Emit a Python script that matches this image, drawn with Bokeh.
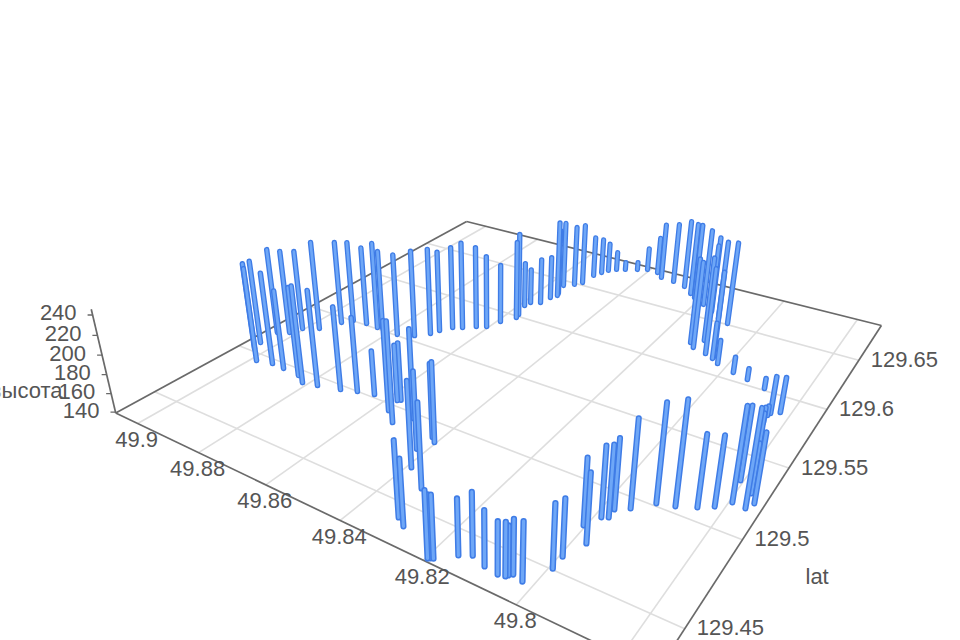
import numpy as np
from bokeh.plotting import figure
from bokeh.models import Range1d, ColumnDataSource
from bokeh.core.properties import value
from bokeh.embed import file_html
from bokeh.resources import INLINE

RAW = """9033 5022 234;8984 4946 240;9043 5080 231;8940 4967 238;9046 5199 234;8900 4963 224;9019 5232 232;8846 4955 234;8815 4920 242;9006 5298 228;8776 4939 240;8969 5345 238;8718 4970 227;8679 4999 218;8637 5022 186;8528 4894 242;8566 4956 232;8576 5039 198;8570 5050 200;8499 4966 231;8390 4689 224;8330 4606 222;8421 4799 217;8404 4875 220;8419 4899 214;8312 4425 212;8288 4396 203;8196 4310 202;8192 4316 198;8187 4321 198;8154 4381 192;8132 4408 198;8098 4386 191;8067 4378 188;8053 4385 189;8050 4394 185;8044 4407 190;8021 4396 194;7993 4505 199;7994 4575 193;8004 4758 203;7975 4679 205;7987 4833 207;7975 4847 208;7977 4899 207;7952 4937 224;7917 5016 234;7882 5039 239;7845 5078 209;7818 5118 207;7794 5177 230;7806 5320 212;7766 5170 233;7780 5316 209;7773 5267 188;7757 5216 207;7840 5753 155;7842 5814 149;7839 5836 178;7822 5867 176;7887 6017 150;7935 6049 151;7975 6073 156;8407 6881 166;8373 6875 183;8349 6828 205;8308 6817 210;8268 6791 219;8235 6729 223;8216 6696 226;8178 6645 227;8143 6593 226;8112 6539 228;8143 6579 218;8081 6513 232;8121 6228 233;8105 6190 234;8096 6284 232;8067 6167 233;8043 6152 233;8043 6141 179;8023 6110 165;8943 5454 232;8924 5503 230;8883 5515 227;8844 5512 236;8833 5526 227;8776 5510 230;8735 5548 235;8707 5608 235;8697 5658 229;8678 5719 231;8656 5746 236;8629 5793 230;8606 5821 220;8591 5904 205;8568 5985 227;8572 6019 233;8587 6122 190;8583 6169 179;8560 6198 191;8553 6277 188;8543 6318 227;8547 6342 216;8561 6442 216;8538 6486 210;8525 6532 210;8521 6645 187;8511 6704 181;8501 6749 173;8484 6786 161;8462 6813 148;8432 6850 148"""
rows = [list(map(int, r.split())) for r in RAW.split(";")]
lon = [49 + r[0] / 1e4 for r in rows]
lat = [129 + r[1] / 1e4 for r in rows]
alt = [r[2] for r in rows]

lon_ticks = [49.9, 49.88, 49.86, 49.84, 49.82, 49.8]
lat_ticks = [129.65, 129.6, 129.55, 129.5, 129.45]
alt_ticks = [240, 220, 200, 180, 160, 140]
lon_grid = [49.9, 49.88, 49.86, 49.84, 49.82, 49.8, 49.78]
lat_grid = [129.65, 129.6, 129.55, 129.5, 129.45]
lon_lim = (49.7738, 49.9077)
lat_lim = (129.4295, 129.6914)
alt_lim = (139, 245.5)

# camera: ground homography plus the vertical vanishing point
H = np.array([[-2392.102, 2050.389, 517.565], [-375.342, -315.264, 376.045], [2.155, 1.691, 1.0]])
VP = np.array([494.0, 2018.0, 1.0])
_wA = H[2] @ np.array([lon_lim[1] - 49.84, lat_lim[0] - 129.55, 1.0])
KAPPA = -0.05696 * _wA / 100


def proj(lo, la, al=139):
    lo, la, al = np.broadcast_arrays(np.asarray(lo, float), np.asarray(la, float), np.asarray(al, float))
    g = np.stack([lo - 49.84, la - 129.55, np.ones_like(lo)], axis=-1)
    q = g @ H.T + ((al - 139) * KAPPA)[..., None] * VP
    return q[..., 0] / q[..., 2], q[..., 1] / q[..., 2], q[..., 2]


p = figure(width=960, height=640, x_range=Range1d(0, 960), y_range=Range1d(640, 0),
           output_backend="svg", toolbar_location=None, min_border=0)
p.axis.visible = False
p.grid.visible = False
p.outline_line_color = None
p.background_fill_color = "white"

# floor grid
for v in lon_grid:
    x, y, _ = proj([v, v], lat_lim)
    p.line(x, y, line_color="#dedede", line_width=1.6)
for v in lat_grid:
    x, y, _ = proj(lon_lim, [v, v])
    p.line(x, y, line_color="#dedede", line_width=1.6)

# box edges
lo0, lo1 = lon_lim
la0, la1 = lat_lim
for a, b in [((lo1, la0), (lo0, la0)), ((lo0, la0), (lo0, la1)), ((lo1, la0), (lo1, la1)), ((lo1, la1), (lo0, la1))]:
    x, y, _ = proj([a[0], b[0]], [a[1], b[1]])
    p.line(x, y, line_color="#6a6a6a", line_width=1.7)
x, y, _ = proj([lo1, lo1], [la0, la0], list(alt_lim))
p.line(x, y, line_color="#6a6a6a", line_width=1.7)
tx, ty, _ = proj(lo1, la0, alt_ticks)
tx = np.broadcast_to(tx, (len(alt_ticks),))
p.segment(tx - 5, ty, tx, ty, line_color="#6a6a6a", line_width=1.3)

# bars, far ones first
bx, by, bw = proj(lon, lat, 139)
ux, uy, _ = proj(lon, lat, alt)
order = np.argsort(by)
x0, y0, x1, y1, cols, wid = [], [], [], [], [], []
for i in order:
    lw = 3.6 + 2.0 / bw[i]
    for c, k in (("#3f7ce6", 1.0), ("#6ea7f7", 0.5)):
        x0.append(bx[i]); y0.append(by[i]); x1.append(ux[i]); y1.append(uy[i])
        cols.append(c); wid.append(lw * k)
src = ColumnDataSource(dict(x0=x0, y0=y0, x1=x1, y1=y1, c=cols, w=wid))
p.segment("x0", "y0", "x1", "y1", source=src, line_color="c", line_width="w", line_cap="round")

FONT = value("Liberation Sans")
TC = "#555555"
tick = dict(text_font=FONT, text_font_size="22px", text_color=TC, text_baseline="middle")

x, y, _ = proj(lon_ticks, la0)
p.text(x, y, text=[str(v) for v in lon_ticks], x_offset=-1, y_offset=16, text_align="center", **tick)
x, y, _ = proj(lo0, lat_ticks)
p.text(x, y, text=[str(v) for v in lat_ticks], x_offset=12, y_offset=-1, text_align="left", **tick)
p.text(tx, ty, text=[str(v) for v in alt_ticks], x_offset=-16, y_offset=-2, text_align="right", **tick)
p.text([805], [576], text=["lat"], text_align="left", **tick)
p.text([62], [390], text=["высота"], text_align="right", **tick)

open("out.html", "w").write(file_html(p, INLINE))
